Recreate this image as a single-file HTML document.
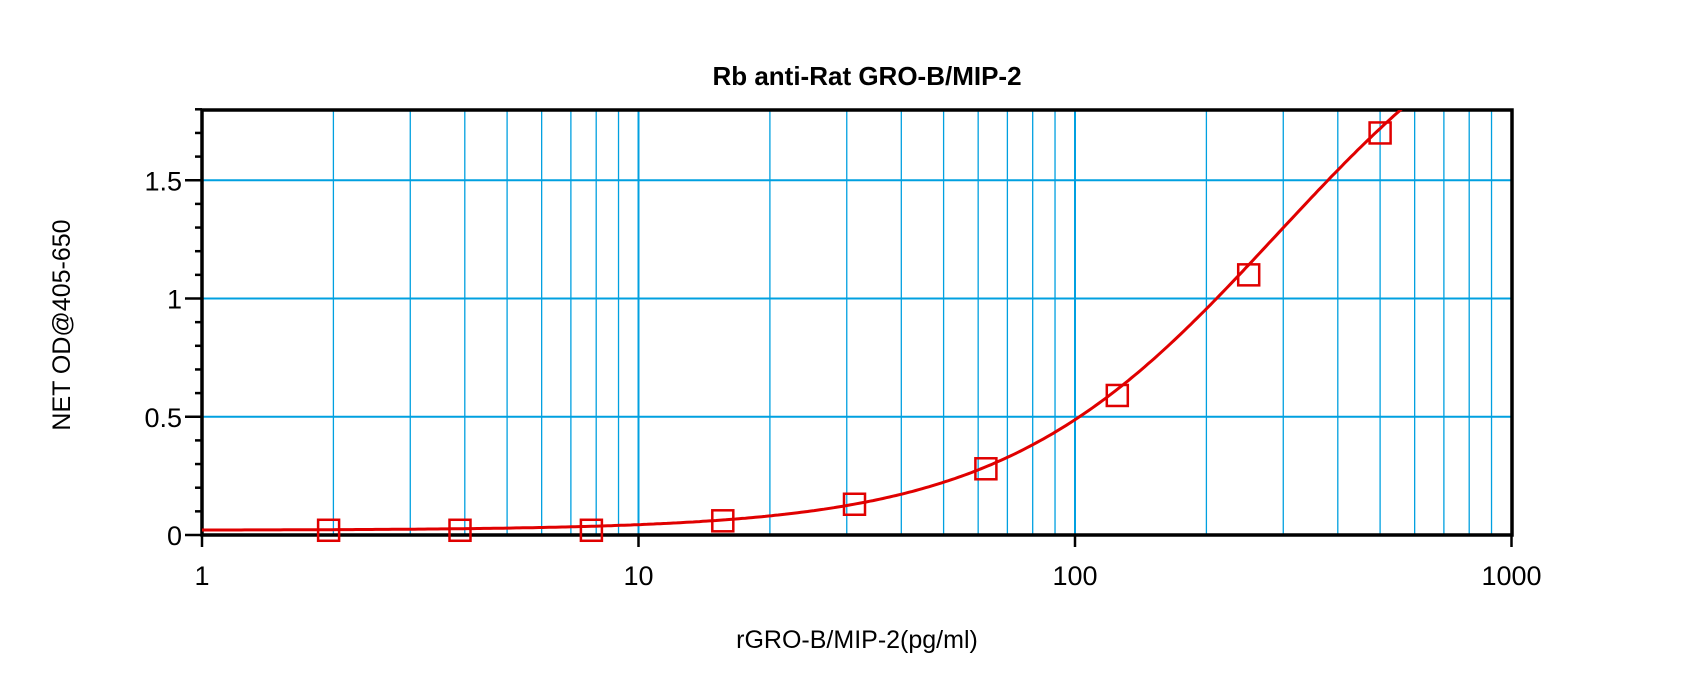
<!DOCTYPE html>
<html><head><meta charset="utf-8"><style>
html,body{margin:0;padding:0;background:#fff;}
svg{display:block;}
text{font-family:"Liberation Sans",Arial,sans-serif;fill:#000;}
</style></head><body>
<svg id="s" width="1700" height="673" viewBox="0 0 1700 673" xmlns="http://www.w3.org/2000/svg">
<defs><clipPath id="cl"><rect x="202" y="110" width="1310" height="425"/></clipPath></defs>
<g id="grid"></g>
<g id="ax"></g>
<text x="867" y="85" font-size="26" font-weight="bold" text-anchor="middle">Rb anti-Rat GRO-B/MIP-2</text>
<text x="857" y="648" font-size="25" text-anchor="middle">rGRO-B/MIP-2(pg/ml)</text>
<text transform="translate(70,325) rotate(-90)" font-size="25" text-anchor="middle">NET OD@405-650</text>
<g id="tl" font-size="27"></g>
<g id="data"></g>
</svg>
<script>
var L=202,R=1512,T=110,B=535,D=436.5,U=236.5;
function X(v){return L+Math.log10(v)*D;}
function Y(v){return B-v*U;}
var ns="http://www.w3.org/2000/svg";
function el(p,t,a){var e=document.createElementNS(ns,t);for(var k in a)e.setAttribute(k,a[k]);document.getElementById(p).appendChild(e);return e;}
var c="#00a0e0";
for(var d=1;d<1000;d*=10)for(var m=1;m<10;m++){var v=d*m;if(v==1)continue;var x=X(v);
el("grid","line",{x1:x,x2:x,y1:T,y2:B,stroke:c,"stroke-width":(m==1?2:1.3)});}
[0.5,1,1.5].forEach(function(v){el("grid","line",{x1:L,x2:R,y1:Y(v),y2:Y(v),stroke:c,"stroke-width":2});});
el("ax","rect",{x:L,y:T,width:R-L,height:B-T,fill:"none",stroke:"#000","stroke-width":3.5});
for(var i=0;i<=18;i++){var y=Y(i/10),len=(i%5==0)?17:7;el("ax","line",{x1:L-len,x2:L,y1:y,y2:y,stroke:"#000","stroke-width":2.5});}
for(var d=1;d<=1000;d*=10){var x=X(d);el("ax","line",{x1:x,x2:x,y1:B,y2:B+12,stroke:"#000","stroke-width":2.5});
var t=el("tl","text",{x:x,y:585,"text-anchor":"middle"});t.textContent=d;}
[["0",0],["0.5",0.5],["1",1],["1.5",1.5]].forEach(function(a){var t=el("tl","text",{x:182,y:Y(a[1])+10,"text-anchor":"end"});t.textContent=a[0];});
function f(x){var r=Math.pow(x/290,1.38);return 0.02+2.5*r/(1+r);}
var d="";
for(var i=0;i<=400;i++){var lx=i*3/400,x=Math.pow(10,lx),y=f(x);if(y>1.82)break;d+=(i?"L":"M")+X(x).toFixed(1)+","+Y(y).toFixed(1);}
el("data","path",{d:d,fill:"none",stroke:"#e00000","stroke-width":3,"clip-path":"url(#cl)"});
[[1.95,0.02],[3.9,0.02],[7.8,0.02],[15.6,0.06],[31.25,0.13],[62.5,0.28],[125,0.59],[250,1.1],[500,1.7]].forEach(function(p){
el("data","rect",{x:X(p[0])-10.5,y:Y(p[1])-10.5,width:21,height:21,fill:"none",stroke:"#e00000","stroke-width":2.5});});
</script>
</body></html>
